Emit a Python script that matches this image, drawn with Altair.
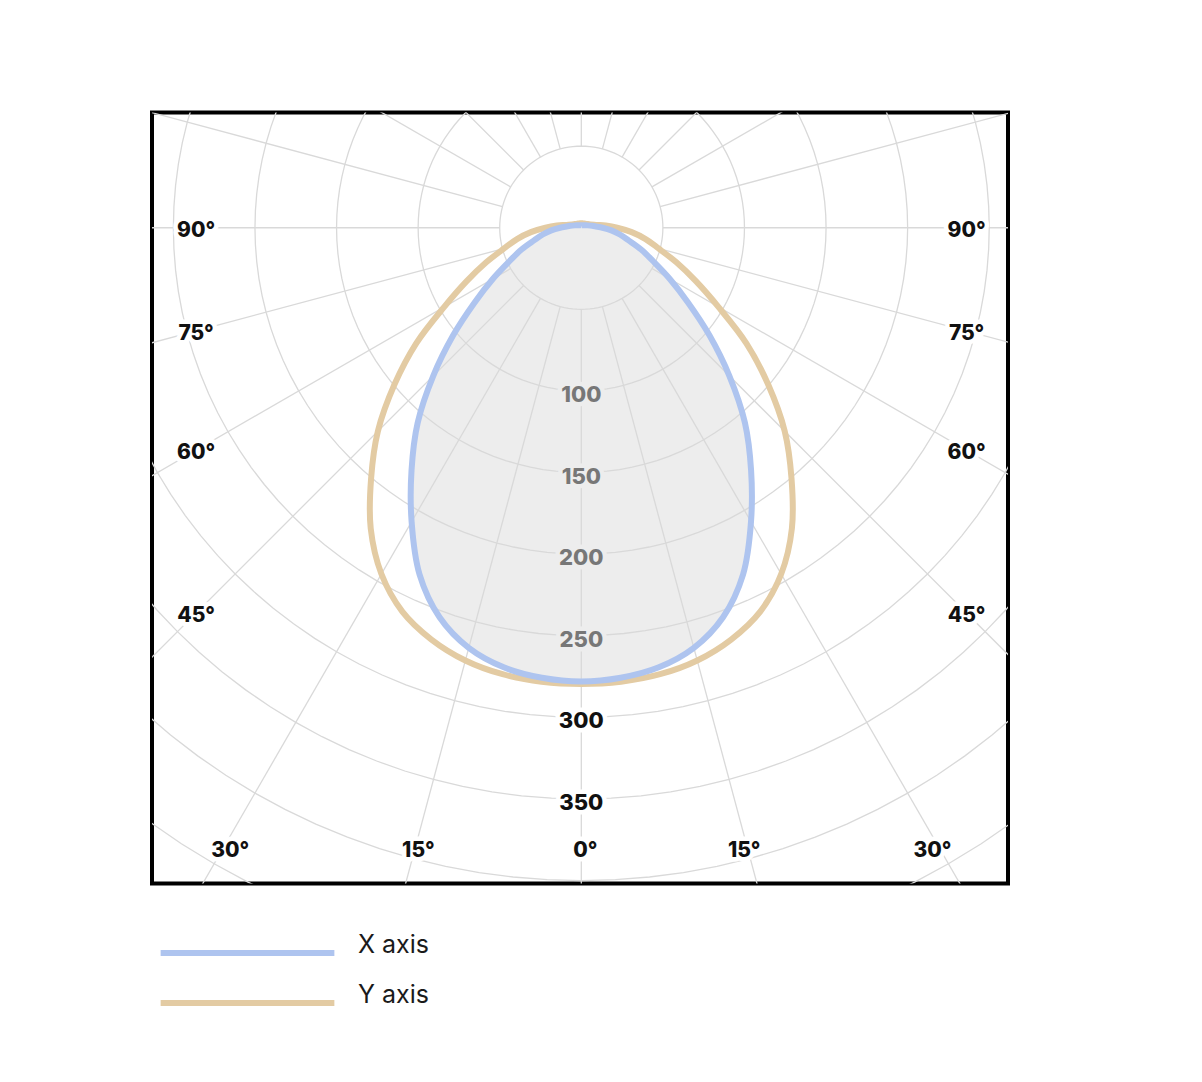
import altair as alt
import pandas as pd

# ---- data (intensity vs. angle from nadir, degrees) ----
angles = [0, 5, 10, 15, 20, 25, 30, 35, 40, 45, 50, 55, 60, 65, 70, 75, 80, 85, 90,
          95, 100, 110, 120, 135, 150, 165, 180]
x_axis_values = [278, 276.8, 273.5, 266.5, 254, 234.5, 208, 181.4, 156, 128.3, 102.5, 79.8,
                 62.5, 48.6, 39, 30, 24, 18.5, 13, 9, 6.8, 4.2, 3, 2.2, 1.8, 1.6, 1.5]
y_axis_values = [279.5, 279.2, 277.8, 274.5, 268.5, 259.5, 245, 225, 200.4, 176.3, 149.5,
                 123.5, 97, 77.5, 62, 49, 40, 31, 22, 15, 10, 6, 4.5, 3.5, 3, 2.8, 2.7]
series_names = ["X axis", "Y axis"]
series_colors = ["#aec4ef", "#e3cba3"]

ring_values = [50, 100, 150, 200, 250, 300, 350, 400, 450]
spoke_angles = list(range(0, 360, 15))
radial_label_values = [100, 150, 200, 250, 300, 350]
side_label_angles = [90, 75, 60, 45]
bottom_label_angles = [30, 15, 0]

# ---- tables ----
rows = []
for name, vals in zip(series_names, [x_axis_values, y_axis_values]):
    for a, v in zip(angles, vals):
        rows.append({"series": name, "phi": a, "I": v})
        if a > 0:
            rows.append({"series": name, "phi": -a, "I": v})
curves = pd.DataFrame(rows)

ring_rows = [{"ring": r, "phi": t, "I": r} for r in ring_values for t in range(0, 361, 3)]
rings = pd.DataFrame(ring_rows)

spoke_rows = [{"spoke": a, "phi": a, "I": I} for a in spoke_angles for I in (50, 600)]
spokes = pd.DataFrame(spoke_rows)

rlabels = pd.DataFrame({"value": radial_label_values})

side_rows = [{"a": a, "s": s, "label": f"{a}°"} for a in side_label_angles for s in (-1, 1)]
bottom_rows = [{"a": a, "s": s, "label": f"{a}°"} for a in bottom_label_angles for s in ((-1, 1) if a else (1,))]
side_df = pd.DataFrame(side_rows)
bottom_df = pd.DataFrame(bottom_rows)

X_DOM = [-263.1, 261.5]
Y_DOM = [-401.8, 70.6]
xs = alt.Scale(domain=X_DOM, nice=False, zero=False)
ys = alt.Scale(domain=Y_DOM, nice=False, zero=False)


def xy():
    return dict(x=alt.X("px:Q", scale=xs, axis=None),
                y=alt.Y("py:Q", scale=ys, axis=None))


polar = dict(px="datum.I*sin(datum.phi*PI/180)", py="-datum.I*cos(datum.phi*PI/180)")

GRID = "#d9d9d9"
FILL = "#ededed"
FONT = "Inter"

fill = (alt.Chart(curves).transform_filter("datum.series=='X axis'")
        .transform_calculate(**polar)
        .mark_line(fill=FILL, strokeOpacity=0, interpolate="catmull-rom", clip=True)
        .encode(**xy(), order="phi:Q"))

ring_layer = (alt.Chart(rings).transform_calculate(**polar)
              .mark_line(stroke=GRID, strokeWidth=1.3, clip=True)
              .encode(**xy(), detail="ring:N", order="phi:Q"))

spoke_layer = (alt.Chart(spokes).transform_calculate(**polar)
               .mark_line(stroke=GRID, strokeWidth=1.3, clip=True)
               .encode(**xy(), detail="spoke:N", order="I:Q"))

color = alt.Color("series:N",
                  scale=alt.Scale(domain=series_names, range=series_colors),
                  legend=alt.Legend(orient="none", legendX=83, legendY=828, title=None,
                                    symbolType="M-14,0H14", symbolSize=154,
                                    symbolStrokeWidth=6, labelFont=FONT, labelFontSize=25,
                                    labelColor="#1a1a1a", labelOffset=98, rowPadding=17,
                                    labelBaseline="alphabetic", padding=0))

tan_line = (alt.Chart(curves).transform_filter("datum.series=='Y axis'")
            .transform_calculate(**polar)
            .mark_line(strokeWidth=6, interpolate="catmull-rom", clip=True)
            .encode(**xy(), order="phi:Q", color=color))
blue_line = (alt.Chart(curves).transform_filter("datum.series=='X axis'")
             .transform_calculate(**polar)
             .mark_line(strokeWidth=6, interpolate="catmull-rom", clip=True)
             .encode(**xy(), order="phi:Q", color=color))

rl_base = alt.Chart(rlabels).transform_calculate(px="0", py="-datum.value")
rtxt = dict(font=FONT, fontSize=22, fontWeight=800, baseline="middle", align="center", dy=4)
rl_in_halo = (rl_base.transform_filter("datum.value<=250")
              .mark_text(**rtxt, fill=FILL, stroke=FILL, strokeWidth=9, strokeJoin="round")
              .encode(**xy(), text="value:Q"))
rl_out_halo = (rl_base.transform_filter("datum.value>250")
               .mark_text(**rtxt, fill="white", stroke="white", strokeWidth=9, strokeJoin="round")
               .encode(**xy(), text="value:Q"))
rl_in = (rl_base.transform_filter("datum.value<=250")
         .mark_text(**rtxt, fill="#777777")
         .encode(**xy(), text="value:Q"))
rl_out = (rl_base.transform_filter("datum.value>250")
          .mark_text(**rtxt, fill="#111111")
          .encode(**xy(), text="value:Q"))

SIDE = 236.1
BOTTOM = 380.3
side_base = alt.Chart(side_df).transform_calculate(
    px=f"datum.s*{SIDE}",
    py=f"-{SIDE}*cos(datum.a*PI/180)/sin(datum.a*PI/180)")
bottom_base = alt.Chart(bottom_df).transform_calculate(
    px=f"datum.s*{BOTTOM}*tan(datum.a*PI/180)*0.98 + (datum.a==0 ? 2.5 : 0)",
    py=f"-{BOTTOM}")

atxt = dict(font=FONT, fontSize=21, fontWeight=800, baseline="middle", align="center", dy=3)
angle_layers = []
for b in (side_base, bottom_base):
    angle_layers.append(b.mark_text(**atxt, fill="white", stroke="white", strokeWidth=9,
                                    strokeJoin="round").encode(**xy(), text="label:N"))
for b in (side_base, bottom_base):
    angle_layers.append(b.mark_text(**atxt, fill="#111111").encode(**xy(), text="label:N"))

chart = alt.layer(
    fill, ring_layer, spoke_layer,
    rl_in_halo, rl_out_halo, rl_in, rl_out,
    *angle_layers,
    tan_line, blue_line,
).properties(
    width=856, height=771,
    padding={"left": 144, "top": 104.5, "right": 186, "bottom": 190},
    autosize=alt.AutoSizeParams(type="none"),
    background="white",
).configure_view(stroke="black", strokeWidth=4)

chart.save("out.html", embed_options={"renderer": "svg", "actions": False})
